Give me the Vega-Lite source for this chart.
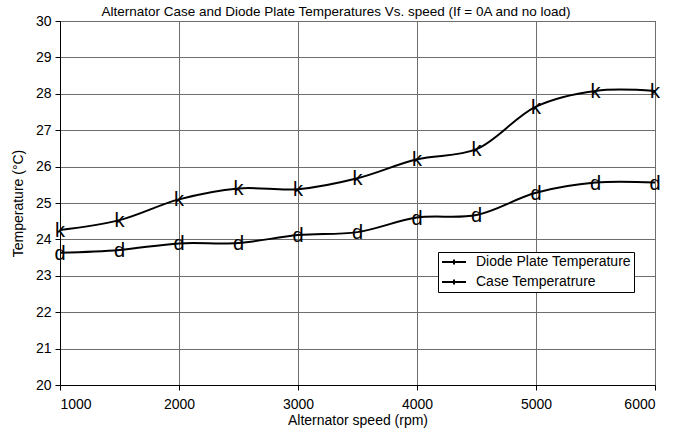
{
  "$schema": "https://vega.github.io/schema/vega-lite/v6.json",
  "width": 595,
  "height": 364,
  "autosize": {"type": "none"},
  "padding": {"left": 60, "top": 21, "right": 19, "bottom": 49},
  "background": "white",
  "title": {
    "text": "Alternator Case and Diode Plate Temperatures Vs. speed (If = 0A and no load)",
    "font": "Liberation Sans",
    "fontSize": 13.5,
    "fontWeight": "normal",
    "color": "black",
    "anchor": "middle",
    "frame": "bounds",
    "offset": -4
  },
  "config": {
    "font": "Liberation Sans",
    "view": {"stroke": "black", "strokeWidth": 1},
    "axis": {
      "labelFont": "Liberation Sans",
      "labelFontSize": 14,
      "labelColor": "black",
      "titleFont": "Liberation Sans",
      "titleFontSize": 14,
      "titleFontWeight": "normal",
      "titleColor": "black",
      "domainColor": "black",
      "tickColor": "black",
      "tickSize": 5,
      "gridColor": "#6e6e6e",
      "gridWidth": 1,
      "gridOpacity": 1
    },
    "legend": {
      "labelFont": "Liberation Sans",
      "labelFontSize": 14,
      "labelColor": "black"
    }
  },
  "data": {
    "values": [
      {"speed": 1000, "series": "Diode Plate Temperature", "temp": 23.63},
      {"speed": 1500, "series": "Diode Plate Temperature", "temp": 23.71},
      {"speed": 2000, "series": "Diode Plate Temperature", "temp": 23.89},
      {"speed": 2500, "series": "Diode Plate Temperature", "temp": 23.9},
      {"speed": 3000, "series": "Diode Plate Temperature", "temp": 24.12},
      {"speed": 3500, "series": "Diode Plate Temperature", "temp": 24.2},
      {"speed": 4000, "series": "Diode Plate Temperature", "temp": 24.6},
      {"speed": 4500, "series": "Diode Plate Temperature", "temp": 24.67},
      {"speed": 5000, "series": "Diode Plate Temperature", "temp": 25.28},
      {"speed": 5500, "series": "Diode Plate Temperature", "temp": 25.56},
      {"speed": 6000, "series": "Diode Plate Temperature", "temp": 25.56},
      {"speed": 1000, "series": "Case Temperatrure", "temp": 24.26},
      {"speed": 1500, "series": "Case Temperatrure", "temp": 24.53},
      {"speed": 2000, "series": "Case Temperatrure", "temp": 25.1},
      {"speed": 2500, "series": "Case Temperatrure", "temp": 25.4},
      {"speed": 3000, "series": "Case Temperatrure", "temp": 25.38},
      {"speed": 3500, "series": "Case Temperatrure", "temp": 25.68},
      {"speed": 4000, "series": "Case Temperatrure", "temp": 26.2},
      {"speed": 4500, "series": "Case Temperatrure", "temp": 26.48},
      {"speed": 5000, "series": "Case Temperatrure", "temp": 27.65},
      {"speed": 5500, "series": "Case Temperatrure", "temp": 28.08},
      {"speed": 6000, "series": "Case Temperatrure", "temp": 28.08}
    ]
  },
  "encoding": {
    "x": {
      "field": "speed",
      "type": "quantitative",
      "scale": {"domain": [1000, 6000], "nice": false},
      "axis": {"title": "Alternator speed (rpm)", "format": "d", "values": [1000, 2000, 3000, 4000, 5000, 6000], "grid": true, "labelPadding": 7, "titlePadding": 2}
    },
    "y": {
      "field": "temp",
      "type": "quantitative",
      "scale": {"domain": [20, 30], "nice": false, "zero": false},
      "axis": {"title": "Temperature (°C)", "values": [20, 21, 22, 23, 24, 25, 26, 27, 28, 29, 30], "grid": true, "labelPadding": 4, "titlePadding": 10}
    }
  },
  "layer": [
    {
      "mark": {"type": "line", "interpolate": "catmull-rom", "strokeWidth": 2},
      "encoding": {
        "color": {
          "field": "series",
          "type": "nominal",
          "scale": {"domain": ["Diode Plate Temperature", "Case Temperatrure"], "range": ["black", "black"]},
          "legend": {
            "title": null,
            "orient": "none",
            "legendX": 378,
            "legendY": 231,
            "strokeColor": "black",
            "fillColor": "white",
            "padding": 3,
            "symbolType": "M-1,0H3M1,-0.4V0.4",
            "symbolSize": 144,
            "symbolStrokeWidth": 2,
            "rowPadding": 6,
            "labelOffset": 21
          }
        }
      }
    },
    {
      "transform": [{"filter": "datum.series === 'Diode Plate Temperature'"}],
      "mark": {"type": "text", "text": "d", "fontSize": 20, "font": "Liberation Sans", "baseline": "alphabetic", "dy": 7, "color": "black"}
    },
    {
      "transform": [{"filter": "datum.series === 'Case Temperatrure'"}],
      "mark": {"type": "text", "text": "k", "fontSize": 20, "font": "Liberation Sans", "baseline": "alphabetic", "dy": 7, "color": "black"}
    }
  ]
}
